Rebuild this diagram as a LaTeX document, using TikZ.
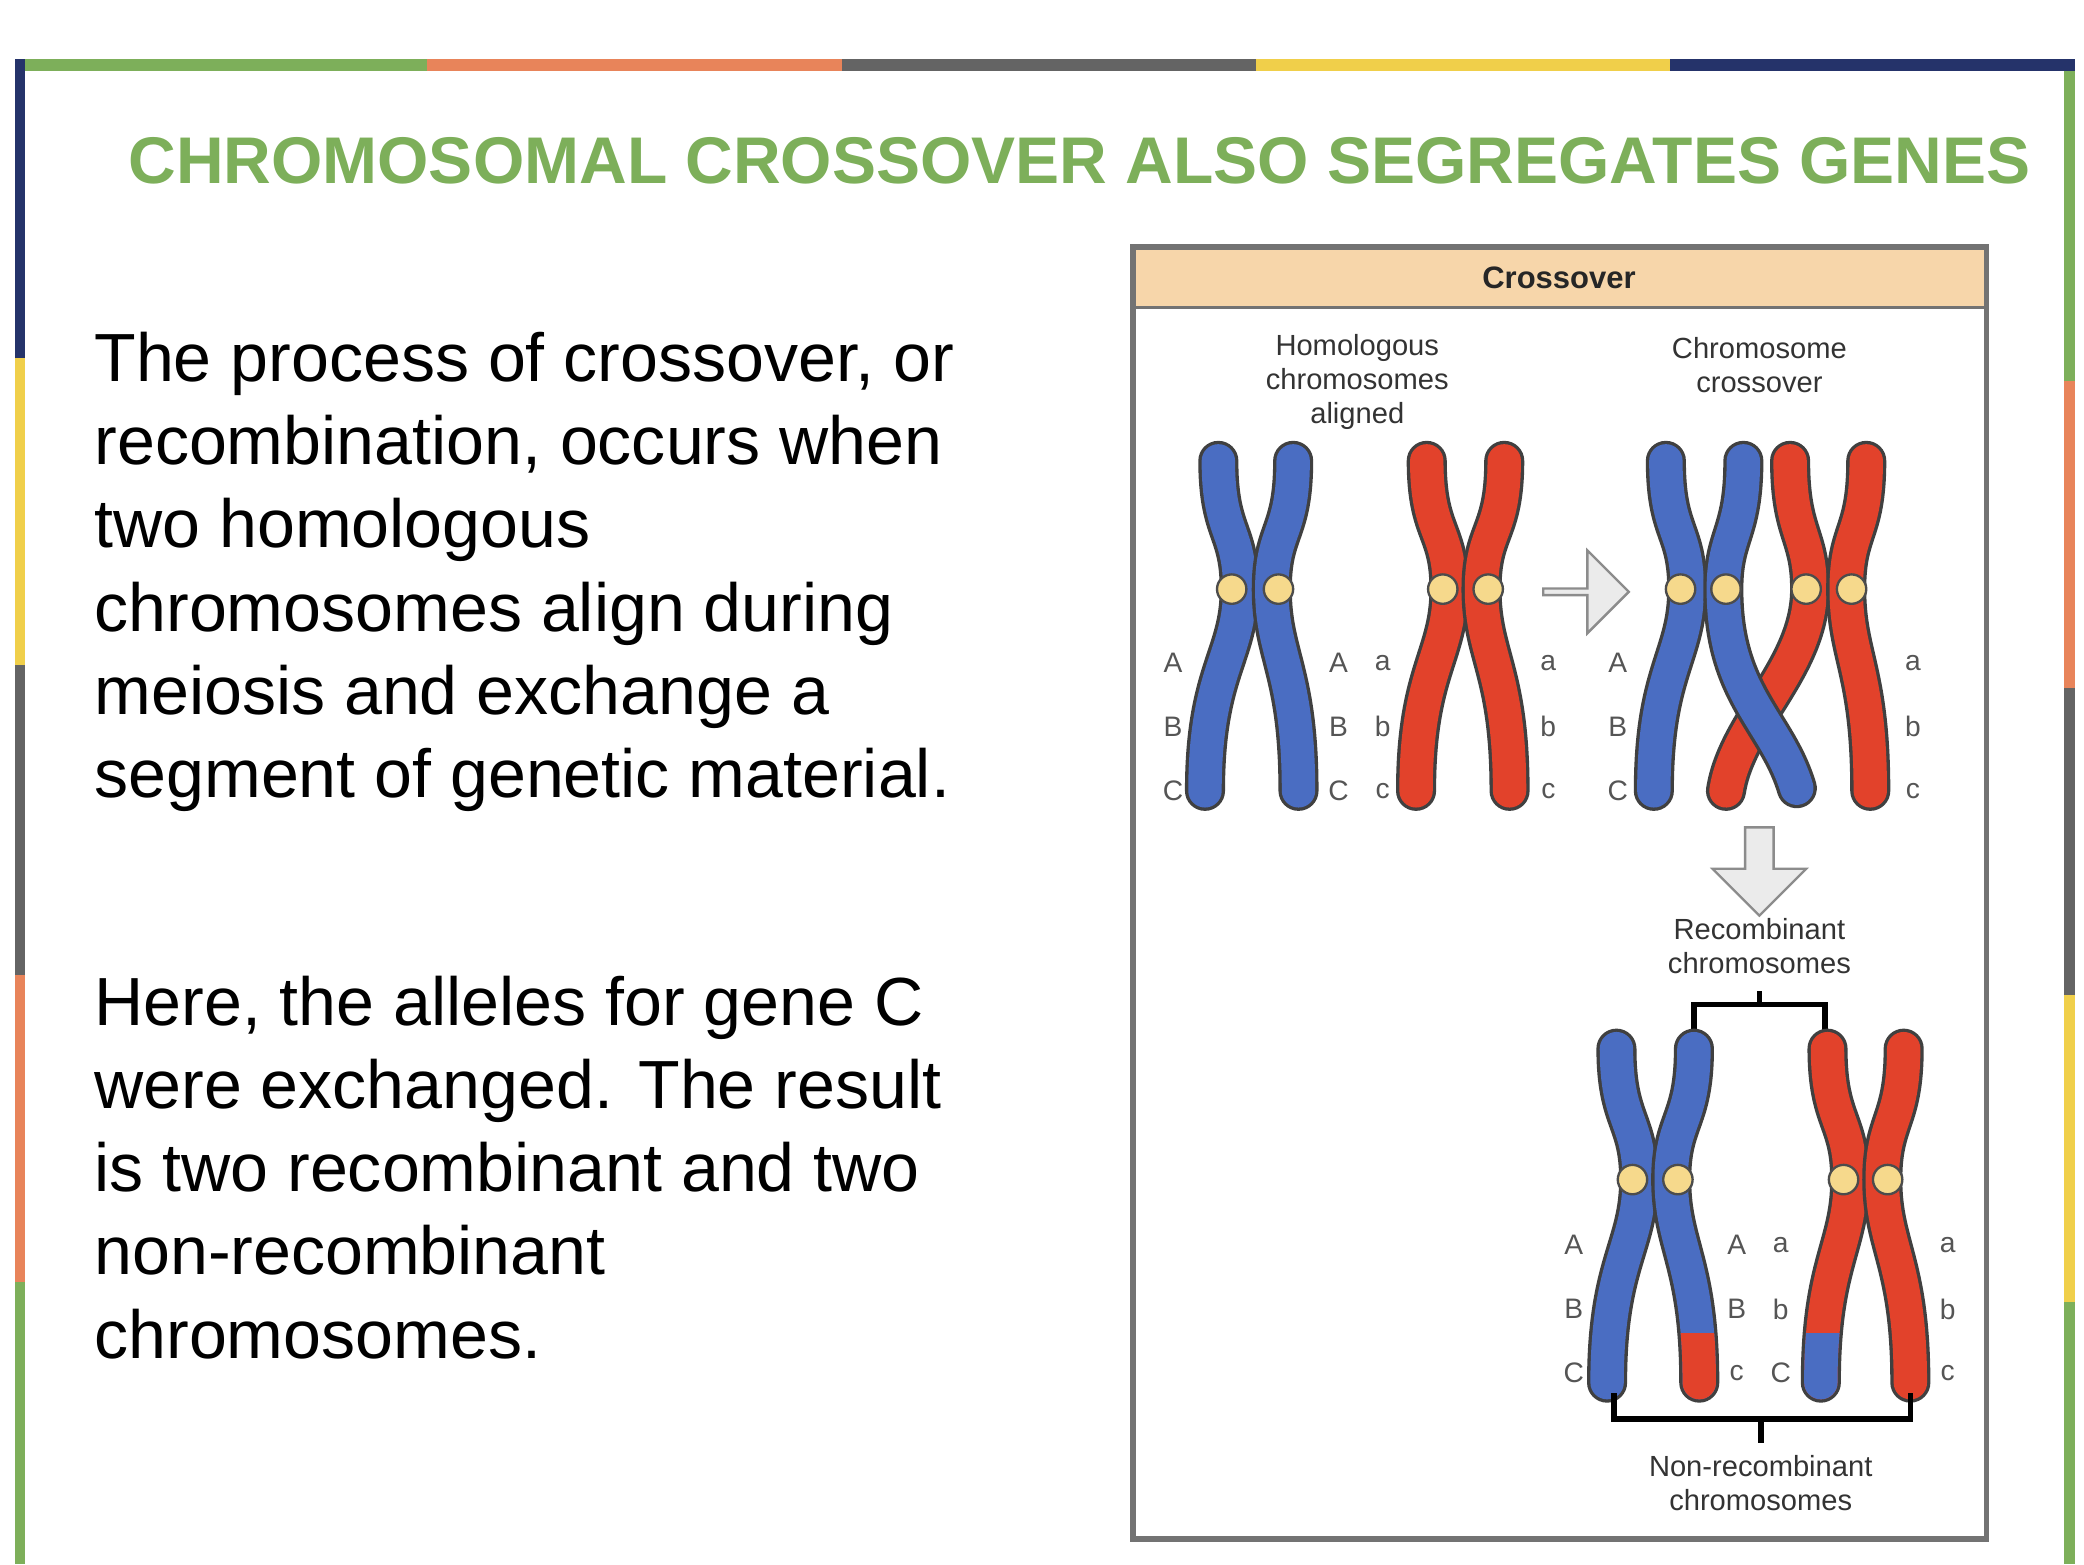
\documentclass[tikz,border=0pt]{standalone}
\usepackage{fontspec}
\setmainfont{Liberation Sans}
\usetikzlibrary{shapes.arrows,calc}
\definecolor{tgreen}{HTML}{7DAF5A}
\definecolor{torange}{HTML}{E8845A}
\definecolor{tgray}{HTML}{646464}
\definecolor{tyellow}{HTML}{F0CF4A}
\definecolor{tnavy}{HTML}{25336A}
\definecolor{cblue}{HTML}{4A6DC2}
\definecolor{cred}{HTML}{E2422B}
\definecolor{peach}{HTML}{F7D6AA}
\definecolor{cen}{HTML}{F6D98C}
\definecolor{lab}{HTML}{555555}
\tikzset{
  outl/.style={line width=0.30cm, draw=black!75, line cap=round},
  inb/.style={line width=0.25cm, draw=cblue, line cap=round},
  inr/.style={line width=0.25cm, draw=cred, line cap=round},
  cent/.style={circle, fill=cen, draw=black!70, line width=0.5pt, minimum size=0.22cm, inner sep=0pt},
  lbl/.style={font=\fontsize{6}{7}\selectfont, text=lab, inner sep=0pt},
  captxt/.style={font=\fontsize{6.2}{7.2}\selectfont, text=black!80, align=center, inner sep=0pt},
  body/.style={font=\fontsize{14.5}{17.7}\selectfont, align=left, anchor=north west, inner sep=0pt},
  garrow/.style={fill=black!8, draw=black!45, line width=0.5pt},
  brk/.style={draw=black, line width=1.2pt}
}
\newcommand{\ctd}[4]{\draw[#1] (#2) .. controls ($(#2)+(0,55)$) and ($(#3)+(0,-45)$) .. (#3) .. controls ($(#3)+(0,50)$) and ($(#4)+(0,-90)$) .. (#4);}
\begin{document}
\begin{tikzpicture}[x=0.01cm,y=-0.01cm]
\useasboundingbox (0,0) rectangle (1560,1171);
\fill[white] (0,0) rectangle (1560,1171);
\fill[tgreen] (12,44) rectangle (320,53);
\fill[torange] (320,44) rectangle (630,53);
\fill[tgray] (630,44) rectangle (940,53);
\fill[tyellow] (940,44) rectangle (1250,53);
\fill[tnavy] (1250,44) rectangle (1553,53);
\fill[tnavy] (11,44) rectangle (19,268);
\fill[tyellow] (11,268) rectangle (19,498);
\fill[tgray] (11,498) rectangle (19,730);
\fill[torange] (11,730) rectangle (19,960);
\fill[tgreen] (11,960) rectangle (19,1171);
\fill[tgreen] (1545,53) rectangle (1553,285);
\fill[torange] (1545,285) rectangle (1553,515);
\fill[tgray] (1545,515) rectangle (1553,745);
\fill[tyellow] (1545,745) rectangle (1553,975);
\fill[tgreen] (1545,975) rectangle (1553,1171);
\node[font=\fontsize{14.05}{16}\selectfont\bfseries, text=tgreen, inner sep=0pt] (title) at (808,120) {CHROMOSOMAL CROSSOVER ALSO SEGREGATES GENES};
\node[body] (p1) at (70,248) {The process of crossover, or\\recombination, occurs when\\two homologous\\chromosomes align during\\meiosis and exchange a\\segment of genetic material.};
\node[body] (p2) at (70,730) {Here, the alleles for gene C\\were exchanged. The result\\is two recombinant and two\\non-recombinant\\chromosomes.};
\fill[white] (848,185) rectangle (1487,1152);
\fill[peach] (848,185) rectangle (1487,230);
\draw[black!55, line width=0.6pt] (848,230) -- (1487,230);
\draw[black!55, line width=1.2pt] (848,185) rectangle (1487,1152);
\node[font=\fontsize{6.6}{8}\selectfont\bfseries, text=black!85] (hdr) at (1167,208) {Crossover};
\node[captxt] (c1) at (1016,286) {Homologous\\chromosomes\\aligned};
\node[captxt] (c2) at (1317,273) {Chromosome\\crossover};
\ctd{outl}{912,345}{928,441}{902,592}\ctd{inb}{912,345}{928,441}{902,592}
\ctd{outl}{968,345}{952,441}{972,592}\ctd{inb}{968,345}{952,441}{972,592}
\node[cent] (k1) at (922,441) {};\node[cent] (k2) at (957,441) {};
\ctd{outl}{1068,345}{1085,441}{1060,592}\ctd{inr}{1068,345}{1085,441}{1060,592}
\ctd{outl}{1126,345}{1109,441}{1130,592}\ctd{inr}{1126,345}{1109,441}{1130,592}
\node[cent] (k3) at (1080,441) {};\node[cent] (k4) at (1114,441) {};
\foreach \t/\y in {A/496,B/544,C/592}{\node[lbl] at (878,\y) {\t};\node[lbl] at (1002,\y) {\t};}
\foreach \t/\y in {a/496,b/544,c/592}{\node[lbl] at (1035,\y) {\t};\node[lbl] at (1159,\y) {\t};}
\node[single arrow, garrow, minimum width=0.62cm, single arrow head extend=0.1cm, minimum height=0.64cm, inner sep=0pt] (ar1) at (1186,443) {};
\ctd{outl}{1247,345}{1263,441}{1238,592}\ctd{inb}{1247,345}{1263,441}{1238,592}
\draw[outl] (1340,345) .. controls (1340,400) and (1355,400) .. (1355,441) .. controls (1355,500) and (1300,540) .. (1292,592);
\draw[inr] (1340,345) .. controls (1340,400) and (1355,400) .. (1355,441) .. controls (1355,500) and (1300,540) .. (1292,592);
\draw[outl] (1305,345) .. controls (1305,400) and (1290,400) .. (1290,441) .. controls (1290,520) and (1330,540) .. (1345,590);
\draw[inb] (1305,345) .. controls (1305,400) and (1290,400) .. (1290,441) .. controls (1290,520) and (1330,540) .. (1345,590);
\ctd{outl}{1397,345}{1382,441}{1400,592}\ctd{inr}{1397,345}{1382,441}{1400,592}
\node[cent] (k5) at (1258,441) {};\node[cent] (k6) at (1292,441) {};
\node[cent] (k7) at (1352,441) {};\node[cent] (k8) at (1386,441) {};
\foreach \t/\y in {A/496,B/544,C/592}{\node[lbl] at (1211,\y) {\t};}
\foreach \t/\y in {a/496,b/544,c/592}{\node[lbl] at (1432,\y) {\t};}
\node[single arrow, garrow, shape border rotate=270, minimum width=0.70cm, single arrow head extend=0.02cm, minimum height=0.66cm, inner sep=0pt] (ar2) at (1317,647) {};
\node[captxt] (c3) at (1317,708) {Recombinant\\chromosomes};
\coordinate (b1) at (1317,742);
\draw[brk] (1268,775) -- (1268,752) -- (1366,752) -- (1366,775);
\draw[brk] (1317,752) -- (b1);
\ctd{outl}{1210,785}{1227,883}{1203,1035}\ctd{inb}{1210,785}{1227,883}{1203,1035}
\ctd{outl}{1268,785}{1251,883}{1272,1035}\ctd{inb}{1268,785}{1251,883}{1272,1035}
\begin{scope}\clip (1240,998) rectangle (1300,1060);\ctd{inr}{1268,785}{1251,883}{1272,1035}\end{scope}
\node[cent] (k9) at (1222,883) {};\node[cent] (k10) at (1256,883) {};
\ctd{outl}{1368,785}{1385,883}{1363,1035}\ctd{inr}{1368,785}{1385,883}{1363,1035}
\begin{scope}\clip (1335,998) rectangle (1395,1060);\ctd{inb}{1368,785}{1385,883}{1363,1035}\end{scope}
\ctd{outl}{1425,785}{1409,883}{1430,1035}\ctd{inr}{1425,785}{1409,883}{1430,1035}
\node[cent] (k11) at (1380,883) {};\node[cent] (k12) at (1413,883) {};
\foreach \t/\y in {A/932,B/980,C/1028}{\node[lbl] at (1178,\y) {\t};}
\foreach \t/\y in {A/932,B/980,c/1028}{\node[lbl] at (1300,\y) {\t};}
\foreach \t/\y in {a/932,b/980,C/1028}{\node[lbl] at (1333,\y) {\t};}
\foreach \t/\y in {a/932,b/980,c/1028}{\node[lbl] at (1458,\y) {\t};}
\coordinate (b2) at (1318,1080);
\draw[brk] (1208,1043) -- (1208,1062) -- (1430,1062) -- (1430,1043);
\draw[brk] (1318,1062) -- (b2);
\node[captxt] (c4) at (1318,1110) {Non-recombinant\\chromosomes};
\end{tikzpicture}
\end{document}
